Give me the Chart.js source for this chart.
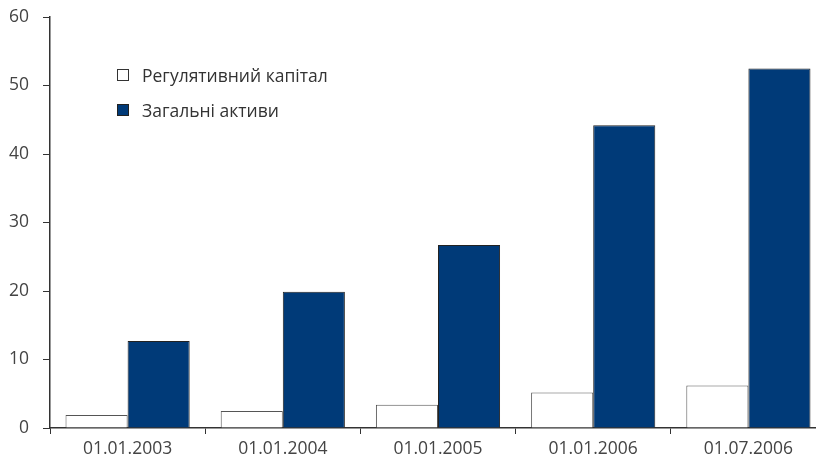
<!DOCTYPE html>
<html>
<head>
<meta charset="utf-8">
<script src="https://cdn.jsdelivr.net/npm/chart.js@4/dist/chart.umd.min.js"></script>
<style>
html,body{margin:0;padding:0;background:#fff;overflow:hidden}
#wrap{position:relative;width:816px;height:462px;overflow:hidden}
#chart{position:absolute;left:0;top:0}
.leg{position:absolute;left:117px;font:17.5px "Open Sans",sans-serif;color:#333;display:flex;align-items:center}
.leg span{display:inline-block;width:12px;height:12px;margin-right:13px;box-sizing:border-box}
</style>
</head>
<body>
<div id="wrap">
<canvas id="chart" width="828" height="462"></canvas>
<div class="leg" style="top:63px"><span style="border:1px solid #333;background:#fff"></span>Регулятивний капітал</div>
<div class="leg" style="top:98px"><span style="border:1px solid #222;background:#003a78"></span>Загальні активи</div>
</div>
<script>
const dates = ["01.01.2003","01.01.2004","01.01.2005","01.01.2006","01.07.2006"]
const regCapital = [1.9, 2.5, 3.4, 5.2, 6.2]
const totalAssets = [12.7, 19.9, 26.7, 44.2, 52.5]
const yTicks = [0, 10, 20, 30, 40, 50, 60]

const axisColor = "#333"
const tickFont = {family:"'Open Sans', sans-serif", size:17.5}

new Chart(document.getElementById("chart"), {
type:"bar",
data:{
labels:dates,
datasets:[{
label:"Регулятивний капітал",
data:regCapital,
backgroundColor:"#ffffff",
borderColor:"#555",
borderWidth:1
},{
label:"Загальні активи",
data:totalAssets,
backgroundColor:"#003a78",
borderColor:"#222",
borderWidth:1
}]
},
options:{
responsive:false,
animation:false,
devicePixelRatio:1,
layout:{padding:{top:17,right:2,left:0,bottom:0}},
plugins:{legend:{display:false},tooltip:{enabled:false}},
datasets:{bar:{categoryPercentage:0.8,barPercentage:1}},
scales:{
x:{
grid:{offset:true,drawOnChartArea:false,color:axisColor,tickLength:6},
border:{color:axisColor,width:1.5},
ticks:{color:"#444",font:tickFont,padding:5,maxRotation:0,autoSkip:false},
afterFit:s=>{s.height=34}
},
y:{
min:0,max:60,
afterBuildTicks:s=>{s.ticks=yTicks.map(v=>({value:v}))},
grid:{drawOnChartArea:false,color:axisColor,tickLength:7},
border:{color:axisColor,width:1.5},
ticks:{color:"#444",font:tickFont,padding:14},
afterFit:s=>{s.width=50;s.paddingTop=0;s.paddingBottom=0}
}
}
}
})
</script>
</body>
</html>
